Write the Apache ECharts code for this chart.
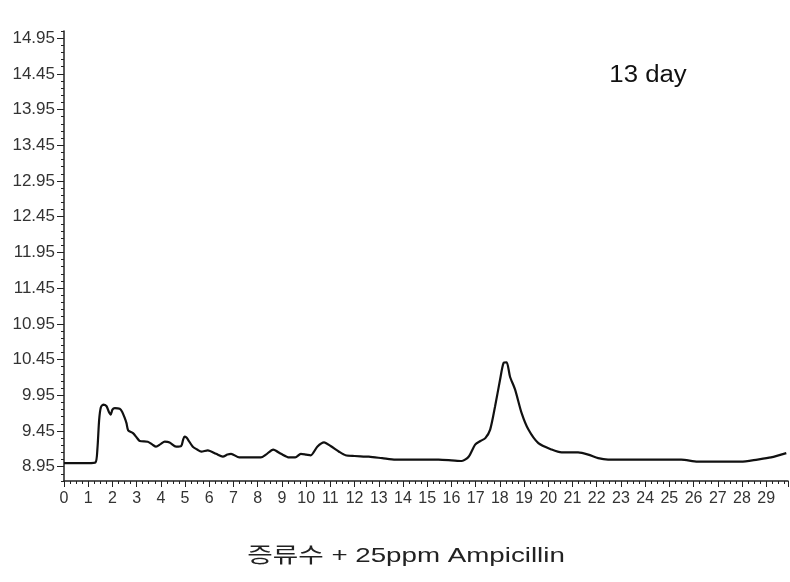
<!DOCTYPE html>
<html>
<head>
<meta charset="utf-8">
<script src="https://cdn.jsdelivr.net/npm/echarts@6/dist/echarts.min.js"></script>
<style>
html,body{margin:0;padding:0;background:#fff;}
#chart{width:790px;height:582px;}
</style>
</head>
<body>
<div id="chart"></div>
<script>
// retention time (min)
var times = [0, 0.5, 1.0, 1.3, 1.38, 1.45, 1.52, 1.62, 1.75, 1.85, 1.93, 2.0, 2.1, 2.3, 2.4, 2.5, 2.58, 2.65, 2.85, 3.0, 3.13, 3.46, 3.65, 3.8, 4.0, 4.16, 4.36, 4.63, 4.84, 4.92, 4.98, 5.05, 5.12, 5.32, 5.5, 5.67, 5.94, 6.28, 6.56, 6.75, 6.9, 7.24, 7.6, 8.13, 8.34, 8.64, 8.96, 9.3, 9.55, 9.78, 10.0, 10.19, 10.46, 10.74, 11.01, 11.36, 11.63, 12.0, 12.59, 13.14, 13.69, 14.5, 15.47, 16.0, 16.43, 16.71, 16.98, 17.2, 17.4, 17.6, 17.8, 18.01, 18.15, 18.28, 18.42, 18.63, 18.9, 19.18, 19.59, 20.14, 20.55, 21.23, 21.65, 22.06, 22.47, 25.49, 26.17, 27.95, 28.64, 29.2, 29.83];
// detector signal
var signal = [9.00, 9.00, 9.00, 9.01, 9.2, 9.6, 9.78, 9.82, 9.80, 9.72, 9.68, 9.75, 9.77, 9.76, 9.72, 9.64, 9.56, 9.46, 9.42, 9.36, 9.31, 9.30, 9.26, 9.23, 9.27, 9.30, 9.29, 9.23, 9.24, 9.33, 9.37, 9.36, 9.33, 9.23, 9.19, 9.16, 9.18, 9.13, 9.09, 9.12, 9.13, 9.08, 9.08, 9.08, 9.12, 9.19, 9.13, 9.08, 9.08, 9.13, 9.12, 9.11, 9.23, 9.29, 9.24, 9.16, 9.11, 9.10, 9.09, 9.07, 9.05, 9.05, 9.05, 9.04, 9.03, 9.09, 9.26, 9.31, 9.35, 9.47, 9.79, 10.17, 10.40, 10.41, 10.21, 10.03, 9.70, 9.47, 9.28, 9.19, 9.15, 9.15, 9.12, 9.07, 9.05, 9.05, 9.02, 9.02, 9.05, 9.08, 9.14];
var yTickLabels = [8.95, 9.45, 9.95, 10.45, 10.95, 11.45, 11.95, 12.45, 12.95, 13.45, 13.95, 14.45, 14.95];
var xTickLabels = [0,1,2,3,4,5,6,7,8,9,10,11,12,13,14,15,16,17,18,19,20,21,22,23,24,25,26,27,28,29];
var titleText = '13 day';
var captionText = '증류수 + 25ppm Ampicillin';

var data = times.map(function (t, i) { return [t, signal[i]]; });
var fontFam = '"Liberation Sans", Arial, sans-serif';
var chart = echarts.init(document.getElementById('chart'), null, {renderer: 'canvas'});
var axisColor = '#222';
var gridPos = {left: 64, right: 2, top: 31, bottom: 101, containLabel: false};
chart.setOption({
  backgroundColor: '#ffffff',
  animation: false,
  graphic: [
    {type: 'text', x: 648, y: 76, scaleX: 1.12, silent: true,
     style: {text: titleText, align: 'center', verticalAlign: 'middle', fill: '#111',
             font: 'normal 23px "Liberation Sans", Arial, sans-serif'}},
    {type: 'text', x: 406, y: 556, scaleX: 1.32, silent: true,
     style: {text: captionText, align: 'center', verticalAlign: 'middle', fill: '#222',
             font: 'normal 21px "Liberation Sans", "Noto Sans CJK KR", sans-serif'}}
  ],
  grid: [gridPos, gridPos],
  xAxis: [
    {
      type: 'value', gridIndex: 0, min: 0, max: 29.9, interval: 1,
      axisLine: {show: true, lineStyle: {color: axisColor, width: 1.5}},
      axisTick: {show: true, length: 6, inside: false, lineStyle: {color: axisColor}},
      minorTick: {show: true, splitNumber: 4, length: 3, lineStyle: {color: axisColor}},
      splitLine: {show: false},
      axisLabel: {
        customValues: xTickLabels,
        fontFamily: fontFam, fontSize: 16, color: '#333', margin: 10
      }
    },
    {
      type: 'value', gridIndex: 1, min: 0, max: 29.9, show: false
    }
  ],
  yAxis: [
    {
      type: 'value', gridIndex: 0, min: 8.75, max: 15.05, interval: 0.1,
      axisLine: {show: true, lineStyle: {color: axisColor, width: 1.5}},
      axisTick: {show: true, length: 3, lineStyle: {color: axisColor}},
      splitLine: {show: false},
      axisLabel: {show: false}
    },
    {
      type: 'value', gridIndex: 1, min: 8.75, max: 15.05,
      axisLine: {show: false},
      axisTick: {show: true, length: 7, customValues: yTickLabels, lineStyle: {color: axisColor}},
      splitLine: {show: false},
      axisLabel: {
        customValues: yTickLabels,
        formatter: function (v) { return v.toFixed(2); },
        fontFamily: fontFam, fontSize: 17, color: '#333', margin: 9
      }
    }
  ],
  series: [{
    type: 'line', xAxisIndex: 0, yAxisIndex: 0,
    data: data, showSymbol: false, smooth: 0.25,
    lineStyle: {color: '#111', width: 2.2}
  }]
});
</script>
</body>
</html>
